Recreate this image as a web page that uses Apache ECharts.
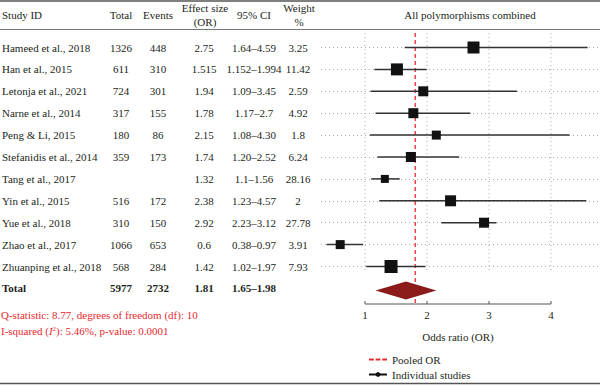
<!DOCTYPE html>
<html>
<head>
<meta charset="utf-8">
<script src="https://cdn.jsdelivr.net/npm/echarts@6/dist/echarts.min.js"></script>
<style>
  html, body { margin: 0; padding: 0; background: #fff; }
  #chart { width: 600px; height: 386px; }
</style>
</head>
<body>
<div id="chart"></div>
<script>
// table / forest plot data
const studies = [
  "Hameed et al., 2018", "Han et al., 2015", "Letonja et al., 2021", "Narne et al., 2014",
  "Peng & Li, 2015", "Stefanidis et al., 2014", "Tang et al., 2017", "Yin et al., 2015",
  "Yue et al., 2018", "Zhao et al., 2017", "Zhuanping et al., 2018"
];
const totals = [1326, 611, 724, 317, 180, 359, null, 516, 310, 1066, 568];
const events = [448, 310, 301, 155, 86, 173, null, 172, 150, 653, 284];
const orValues = [2.75, 1.515, 1.94, 1.78, 2.15, 1.74, 1.32, 2.38, 2.92, 0.6, 1.42];
const ciLow = [1.64, 1.152, 1.09, 1.17, 1.08, 1.2, 1.1, 1.23, 2.23, 0.38, 1.02];
const ciHigh = [4.59, 1.994, 3.45, 2.7, 4.3, 2.52, 1.56, 4.57, 3.12, 0.97, 1.97];
const ciText = ["1.64–4.59", "1.152–1.994", "1.09–3.45", "1.17–2.7", "1.08–4.30", "1.20–2.52",
  "1.1–1.56", "1.23–4.57", "2.23–3.12", "0.38–0.97", "1.02–1.97"];
const weights = [3.25, 11.42, 2.59, 4.92, 1.8, 6.24, 28.16, 2, 27.78, 3.91, 7.93];

// pooled result
const totalN = 5977;
const totalEvents = 2732;
const pooledOR = 1.81;
const pooledCI = "1.65–1.98";
// diamond as drawn in the figure: low, peak, high (OR) and its row
const diamond = [1.17, 1.66, 2.15];
const diamondRow = 11.1;

const xTicks = [1, 2, 3, 4];

// marker sizes (px) as drawn
const squareSize = [12, 12, 10, 10, 9, 10, 8, 11, 10, 9, 13];

const FONT = "'Liberation Serif', 'DejaVu Serif', serif";
const TEXT = "#231f20";
const RED = "#e8282e";

// layout
const plotLeft = 321, plotRight = 598, unitLeft = 365, unitRight = 551;
const plotTop = 33, plotBottom = 305, firstRowY = 47.5, rowStep = 21.9;
const axisY = 304, refBottomY = 273, tickLen = 3;
const pxPerUnit = (unitRight - unitLeft) / (xTicks[xTicks.length - 1] - xTicks[0]);
const xMin = xTicks[0] - (unitLeft - plotLeft) / pxPerUnit;
const xMax = xTicks[xTicks.length - 1] + (plotRight - unitRight) / pxPerUnit;
const yMin = -(firstRowY - plotTop) / rowStep;
const yMax = (plotBottom - firstRowY) / rowStep;
const axisRow = (axisY - firstRowY) / rowStep;
const refBottomRow = (refBottomY - firstRowY) / rowStep;
const tickTopRow = axisRow - tickLen / rowStep;
const rows = studies.map((_, i) => i);
const totalRow = studies.length;

// table columns
const cols = [
  { x: 2, align: "left" },
  { x: 121, align: "center" },
  { x: 158, align: "center" },
  { x: 204, align: "center" },
  { x: 254, align: "center" },
  { x: 298, align: "center" },
];

const chart = echarts.init(document.getElementById("chart"), null, { renderer: "svg" });

function txt(x, y, text, align, color) {
  return {
    type: "text", x: x, y: y,
    style: { text: text, textAlign: align || "center", textVerticalAlign: "middle",
      font: "11px " + FONT, fill: color || TEXT }
  };
}

const option = {
  animation: false,
  grid: [
    // forest plot area
    { left: plotLeft, right: 600 - plotRight, top: plotTop, bottom: 386 - plotBottom },
    // odds ratio axis labels
    { left: unitLeft, right: 600 - unitRight, top: axisY - 3, bottom: 386 - axisY },
  ],
  xAxis: [
    { gridIndex: 0, type: "value", min: xMin, max: xMax, show: false },
    {
      gridIndex: 1, type: "value", min: 1, max: 4, interval: 1,
      axisLine: { show: false }, axisTick: { show: false }, splitLine: { show: false },
      axisLabel: { margin: 5, fontFamily: FONT, fontSize: 11, color: TEXT },
      name: "Odds ratio (OR)", nameLocation: "middle", nameGap: 27,
      nameTextStyle: { fontFamily: FONT, fontSize: 11, color: TEXT },
    },
  ],
  yAxis: [
    { gridIndex: 0, type: "value", inverse: true, min: yMin, max: yMax, show: false },
    { gridIndex: 1, type: "value", min: 0, max: 1, show: false },
  ],
  legend: {
    orient: "vertical", left: 363, top: 349, itemWidth: 18, itemHeight: 6, itemGap: 4,
    textStyle: { fontFamily: FONT, fontSize: 11, color: TEXT },
    data: [
      { name: "Pooled OR", icon: "path://M0,0h5v2h-5zM7,0h5v2h-5zM14,0h5v2h-5z" },
      { name: "Individual studies" },
    ],
  },
  graphic: [
    { type: "line", shape: { x1: 0, y1: 1, x2: 600, y2: 1 }, style: { stroke: "#555", lineWidth: 1.5 } },
    { type: "line", shape: { x1: 0, y1: 29.5, x2: 600, y2: 29.5 }, style: { stroke: "#777", lineWidth: 1 } },
    { type: "line", shape: { x1: 0, y1: 383.5, x2: 600, y2: 383.5 }, style: { stroke: "#555", lineWidth: 1.5 } },
    txt(2, 15, "Study ID", "left"),
    txt(121, 15, "Total"),
    txt(158, 15, "Events"),
    txt(205, 8, "Effect size"),
    txt(205, 22, "(OR)"),
    txt(254, 15, "95% CI"),
    txt(299, 8, "Weight"),
    txt(299, 22, "%"),
    txt(470, 15, "All polymorphisms combined"),
    txt(1, 315, "Q-statistic: 8.77, degrees of freedom (df): 10", "left", RED),
    {
      type: "text", x: 1, y: 331,
      style: {
        text: "{n|I-squared (}{i|I}{s|2}{n|): 5.46%, p-value: 0.0001}",
        textAlign: "left", textVerticalAlign: "middle",
        rich: {
          n: { fontFamily: FONT, fontSize: 11, fill: RED, color: RED },
          i: { fontFamily: FONT, fontSize: 11, fontStyle: "italic", fill: RED, color: RED },
          s: { fontFamily: FONT, fontSize: 7, fill: RED, color: RED, verticalAlign: "top" },
        },
      },
    },
  ],
  series: [
    {
      // reference lines, axis line and ticks, placed through the plot scales
      name: "guides", type: "custom", xAxisIndex: 0, yAxisIndex: 0, z: 1, silent: true,
      encode: { x: 0, y: 1 },
      data: xTicks.map(t => [t, axisRow]),
      renderItem: function (params, api) {
        const t = api.value(0);
        const top = api.coord([t, yMin]);
        const refEnd = api.coord([t, refBottomRow]);
        const base = api.coord([t, axisRow]);
        const tickTop = api.coord([t, tickTopRow]);
        const children = [
          { type: "line", shape: { x1: top[0], y1: top[1], x2: refEnd[0], y2: refEnd[1] },
            style: { stroke: "#aaa", lineWidth: 1, lineDash: [1, 3] } },
          { type: "line", shape: { x1: base[0], y1: base[1], x2: tickTop[0], y2: tickTop[1] },
            style: { stroke: "#555", lineWidth: 1 } },
        ];
        if (params.dataIndex === 0) {
          const a = api.coord([xTicks[0], axisRow]);
          const b = api.coord([xTicks[xTicks.length - 1], axisRow]);
          children.push({ type: "line", shape: { x1: a[0], y1: a[1], x2: b[0], y2: b[1] },
            style: { stroke: "#555", lineWidth: 1 } });
        }
        return { type: "group", children: children };
      },
    },
    {
      name: "Pooled OR", type: "line", xAxisIndex: 0, yAxisIndex: 0, z: 2,
      symbol: "none", silent: true,
      lineStyle: { color: RED, type: [4, 3], width: 1.3 },
      itemStyle: { color: RED },
      data: [[pooledOR, yMin], [pooledOR, axisRow]],
    },
    {
      name: "Individual studies", type: "line", xAxisIndex: 0, yAxisIndex: 0,
      symbol: "circle", symbolSize: 5,
      lineStyle: { color: "#111", width: 1.5 }, itemStyle: { color: "#111" },
      data: [],
    },
    {
      name: "ci", type: "custom", xAxisIndex: 0, yAxisIndex: 0, z: 3, silent: true,
      encode: { x: [1, 2, 3], y: 0 },
      data: rows.map(i => [i, ciLow[i], ciHigh[i], orValues[i], squareSize[i]]),
      renderItem: function (params, api) {
        const lo = api.coord([api.value(1), api.value(0)]);
        const hi = api.coord([api.value(2), api.value(0)]);
        const mid = api.coord([api.value(3), api.value(0)]);
        const s = api.value(4);
        return {
          type: "group",
          children: [
            { type: "line", shape: { x1: lo[0], y1: lo[1], x2: hi[0], y2: hi[1] },
              style: { stroke: "#333", lineWidth: 1.5 } },
            { type: "rect", shape: { x: mid[0] - s / 2, y: mid[1] - s / 2, width: s, height: s },
              style: { fill: "#111" } },
          ],
        };
      },
      markLine: {
        silent: true, symbol: "none", label: { show: false }, z: 1,
        lineStyle: { type: [1, 3], color: "#aaa", width: 1 },
        data: rows.map(i => ({ yAxis: i })),
      },
    },
    {
      name: "diamond", type: "custom", xAxisIndex: 0, yAxisIndex: 0, z: 5, silent: true,
      encode: { x: [1, 2, 3], y: 0 },
      data: [[diamondRow, diamond[0], diamond[1], diamond[2]]],
      renderItem: function (params, api) {
        const a = api.coord([api.value(1), api.value(0)]);
        const b = api.coord([api.value(2), api.value(0)]);
        const c = api.coord([api.value(3), api.value(0)]);
        const h = 9;
        return {
          type: "polygon",
          shape: { points: [[a[0], a[1]], [b[0], b[1] - h], [c[0], c[1]], [b[0], b[1] + h]] },
          style: { fill: "#8c1a1a" },
        };
      },
    },
    {
      name: "table", type: "custom", xAxisIndex: 0, yAxisIndex: 0, clip: false, silent: true,
      encode: { x: 0, y: 1 },
      data: rows.concat([totalRow]).map(i => [xMin, i]),
      renderItem: function (params, api) {
        const i = params.dataIndex;
        const y = api.coord([xMin, i])[1];
        const isTotal = i === totalRow;
        const cells = isTotal
          ? ["Total", totalN, totalEvents, pooledOR, pooledCI, ""]
          : [studies[i], totals[i] == null ? "" : totals[i], events[i] == null ? "" : events[i],
             orValues[i], ciText[i], weights[i]];
        return {
          type: "group",
          children: cells.map((c, k) => ({
            type: "text", x: cols[k].x, y: y,
            style: {
              text: String(c), textAlign: cols[k].align, textVerticalAlign: "middle",
              font: (isTotal ? "bold " : "") + "11px " + FONT, fill: TEXT,
            },
          })),
        };
      },
    },
  ],
};

chart.setOption(option);
</script>
</body>
</html>
